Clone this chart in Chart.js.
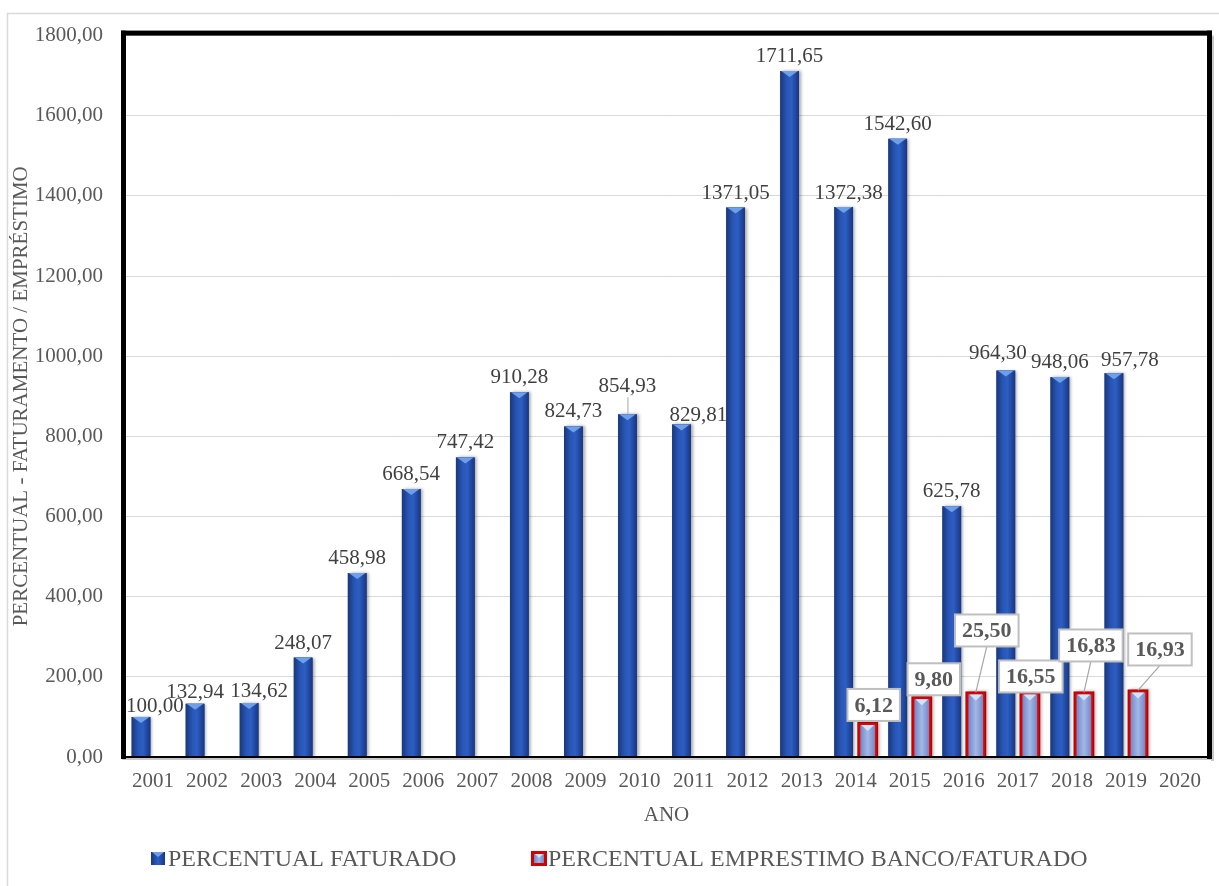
<!DOCTYPE html>
<html>
<head>
<meta charset="utf-8">
<script src="https://cdn.jsdelivr.net/npm/chart.js@4.4.1/dist/chart.umd.min.js"></script>
<style>
html,body{margin:0;padding:0;background:#fff}
#graf{display:block}
</style>
</head>
<body>
<canvas id="graf" width="1219" height="886"></canvas>
<script>
// dados
const anos = ["2001","2002","2003","2004","2005","2006","2007","2008","2009","2010",
              "2011","2012","2013","2014","2015","2016","2017","2018","2019","2020"];
const percFaturado = [100.00,132.94,134.62,248.07,458.98,668.54,747.42,910.28,824.73,854.93,
                      829.81,1371.05,1711.65,1372.38,1542.60,625.78,964.30,948.06,957.78,null];
// altura das barras vermelhas como aparecem no gráfico
const alturaEmprestimo = [null,null,null,null,null,null,null,null,null,null,
                          null,null,null,85,149,161,161,161,166,null];
// valores escritos nos rótulos vermelhos
const percEmprestimo = [null,null,null,null,null,null,null,null,null,null,
                        null,null,null,6.12,9.80,25.50,16.55,16.83,16.93,null];
const ticksY = [0,200,400,600,800,1000,1200,1400,1600,1800];

const FONTE = '"Liberation Serif", "Times New Roman", serif';
const fmt = v => v.toFixed(2).replace('.', ',');

// deslocamento manual de alguns rótulos (dx, dy)
const ajusteAzul = {0:[14,4],1:[0,3],2:[10,3],9:[0,-13],10:[17,6],13:[5,1],16:[-8,-3],18:[16,2]};
const ajusteVermelho = {13:[6,-18],14:[12,-18],15:[11,-62],16:[1,-16],17:[7,-47],18:[22,-41]};

/* moldura externa cinza */
const fundo = {
  id:'fundo',
  beforeDraw(chart){
    const c = chart.ctx;
    c.save();
    c.fillStyle = '#fff';
    c.fillRect(0,0,chart.width,chart.height);
    c.strokeStyle = '#d9d9d9';
    c.lineWidth = 1.5;
    c.strokeRect(7.5,13.5,1300,1000);
    c.restore();
  }
};

/* pinta as barras com degradê */
const barras = {
  id:'barras',
  afterDatasetsDraw(chart){
    const c = chart.ctx;
    c.save();
    chart.getDatasetMeta(0).data.forEach((el,i)=>{
      if(percFaturado[i]==null) return;
      const {x,y,base,width} = el.getProps(['x','y','base','width'],true);
      const l = x-width/2, r = x+width/2;
      c.shadowColor = 'rgba(0,0,0,0.35)';
      c.shadowOffsetX = 2; c.shadowBlur = 3;
      const g = c.createLinearGradient(l,0,r,0);
      g.addColorStop(0,'#1a377c');
      g.addColorStop(0.35,'#2856b5');
      g.addColorStop(0.6,'#2c5ec4');
      g.addColorStop(1,'#183681');
      c.fillStyle = g;
      c.fillRect(l,y,width,base-y);
      c.shadowColor = 'transparent';
      c.fillStyle = '#6f9fe8';
      c.beginPath();
      c.moveTo(l+1,y); c.lineTo(r-1,y); c.lineTo(x,y+6); c.closePath(); c.fill();
    });
    chart.getDatasetMeta(1).data.forEach((el,i)=>{
      if(alturaEmprestimo[i]==null) return;
      const {x,y,base,width} = el.getProps(['x','y','base','width'],true);
      const l = x-width/2-1, r = x+width/2+1;
      c.shadowColor = 'rgba(0,0,0,0.3)';
      c.shadowOffsetX = 2; c.shadowBlur = 3;
      c.fillStyle = '#a80000';
      c.fillRect(l,y-1,r-l,base-y+1);
      c.shadowColor = 'transparent';
      c.fillStyle = '#e00000';
      c.fillRect(l+1,y,r-l-2,base-y);
      const g = c.createLinearGradient(l+3,0,r-3,0);
      g.addColorStop(0,'#6f89c8');
      g.addColorStop(0.5,'#a5b7e6');
      g.addColorStop(1,'#6f89c8');
      c.fillStyle = g;
      c.fillRect(l+3,y+2,r-l-6,base-y-2);
      c.fillStyle = '#d2e4fb';
      c.beginPath();
      c.moveTo(l+4,y+2); c.lineTo(r-4,y+2); c.lineTo(x,y+8); c.closePath(); c.fill();
    });
    c.restore();
  }
};

/* rótulos de dados */
const rotulos = {
  id:'rotulos',
  afterDatasetsDraw(chart){
    const c = chart.ctx;
    c.save();
    c.textAlign = 'center';
    c.font = '21px ' + FONTE;
    chart.getDatasetMeta(0).data.forEach((el,i)=>{
      const v = percFaturado[i];
      if(v==null) return;
      const a = ajusteAzul[i] || [0,0];
      const tx = el.x + a[0], ty = el.y - 9 + a[1];
      c.fillStyle = '#404040';
      c.textBaseline = 'alphabetic';
      c.fillText(fmt(v), tx, ty);
      if(a[1] < -8){
        c.strokeStyle = '#a6a6a6'; c.lineWidth = 1;
        c.beginPath(); c.moveTo(el.x+0.5, ty+5); c.lineTo(el.x+0.5, el.y); c.stroke();
      }
    });
    c.font = 'bold 22px ' + FONTE;
    chart.getDatasetMeta(1).data.forEach((el,i)=>{
      const v = percEmprestimo[i];
      if(v==null) return;
      const a = ajusteVermelho[i] || [0,-18];
      const cx = el.x + a[0], cy = el.y + a[1];
      const t = fmt(v);
      const w = c.measureText(t).width + 14, h = 32;
      if(a[1] < -25){
        c.strokeStyle = '#a6a6a6'; c.lineWidth = 1.2;
        c.beginPath(); c.moveTo(cx, cy+h/2); c.lineTo(el.x, el.y); c.stroke();
      }
      c.fillStyle = '#fff';
      c.fillRect(cx-w/2, cy-h/2, w, h);
      c.strokeStyle = '#bfbfbf'; c.lineWidth = 2;
      c.strokeRect(cx-w/2, cy-h/2, w, h);
      c.fillStyle = '#595959';
      c.textBaseline = 'middle';
      c.fillText(t, cx, cy+1);
    });
    c.restore();
  }
};

/* moldura preta da área do gráfico + legenda */
const moldura = {
  id:'moldura',
  afterDraw(chart){
    const c = chart.ctx;
    const {left,top,right,bottom} = chart.chartArea;
    c.save();
    c.fillStyle = '#c8c8c8';
    c.fillRect(right+4, top, 3, bottom-top+4);
    c.fillRect(left-4, bottom+1, right-left+9, 2);
    c.fillStyle = '#000';
    c.fillRect(left-5, top-5, right-left+10, 5);
    c.fillRect(left-5, top-5, 5, bottom-top+7);
    c.fillRect(right, top-5, 5, bottom-top+7);
    c.fillRect(left-5, bottom-1, right-left+10, 2);

    // legenda
    const itens = [
      {x:151, texto:'PERCENTUAL FATURADO', tipo:0},
      {x:531, texto:'PERCENTUAL EMPRESTIMO BANCO/FATURADO', tipo:1}
    ];
    const ly = 852;
    c.font = '24px ' + FONTE;
    c.textBaseline = 'alphabetic';
    c.textAlign = 'left';
    itens.forEach(it=>{
      if(it.tipo===0){
        const g = c.createLinearGradient(it.x,0,it.x+14,0);
        g.addColorStop(0,'#1a377c'); g.addColorStop(0.5,'#2d5fc4'); g.addColorStop(1,'#183681');
        c.fillStyle = g; c.fillRect(it.x, ly, 14, 13);
        c.fillStyle = '#6f9fe8';
        c.beginPath(); c.moveTo(it.x+1,ly); c.lineTo(it.x+13,ly); c.lineTo(it.x+7,ly+5); c.closePath(); c.fill();
      } else {
        c.fillStyle = '#d00000'; c.fillRect(it.x, ly-1, 16, 15);
        const g = c.createLinearGradient(it.x+3,0,it.x+13,0);
        g.addColorStop(0,'#6f89c8'); g.addColorStop(0.5,'#a5b7e6'); g.addColorStop(1,'#6f89c8');
        c.fillStyle = g; c.fillRect(it.x+3, ly+2, 10, 9);
        c.fillStyle = '#d2e4fb';
        c.beginPath(); c.moveTo(it.x+4,ly+2); c.lineTo(it.x+12,ly+2); c.lineTo(it.x+8,ly+6); c.closePath(); c.fill();
      }
      c.fillStyle = '#595959';
      c.fillText(it.texto, it.x + 17, 866);
    });
    c.restore();
  }
};

const ctx = document.getElementById('graf').getContext('2d');

new Chart(ctx,{
  type:'bar',
  data:{
    labels:anos,
    datasets:[
      {label:'PERCENTUAL FATURADO', data:percFaturado, backgroundColor:'#2854b0', borderWidth:0},
      {label:'PERCENTUAL EMPRESTIMO BANCO/FATURADO', data:alturaEmprestimo, backgroundColor:'#8ea4da', borderWidth:0}
    ]
  },
  options:{
    responsive:false,
    animation:false,
    categoryPercentage:0.89,
    barPercentage:0.78,
    layout:{padding:{left:6, top:33, right:12, bottom:54}},
    plugins:{legend:{display:false}, tooltip:{enabled:false}},
    scales:{
      x:{
        grid:{display:false, drawTicks:false},
        border:{display:false},
        ticks:{color:'#595959', font:{family:FONTE, size:21}, padding:12, maxRotation:0, autoSkip:false},
        title:{display:true, text:'ANO', color:'#595959', font:{family:FONTE, size:21}, padding:{top:0,bottom:4}},
        afterFit(s){ s.height = 75; }
      },
      y:{
        min:0, max:1800,
        afterBuildTicks(s){ s.ticks = ticksY.map(v=>({value:v})); },
        grid:{color:'#d9d9d9', lineWidth:1, drawTicks:false},
        border:{display:false},
        ticks:{color:'#595959', font:{family:FONTE, size:21}, padding:23, callback:v=>fmt(v)},
        title:{display:true, text:'PERCENTUAL - FATURAMENTO / EMPRÉSTIMO', color:'#595959', font:{family:FONTE, size:21}, padding:{top:3,bottom:0}},
        afterFit(s){ s.width = 120; }
      }
    }
  },
  plugins:[fundo, barras, rotulos, moldura]
});
</script>
</body>
</html>
